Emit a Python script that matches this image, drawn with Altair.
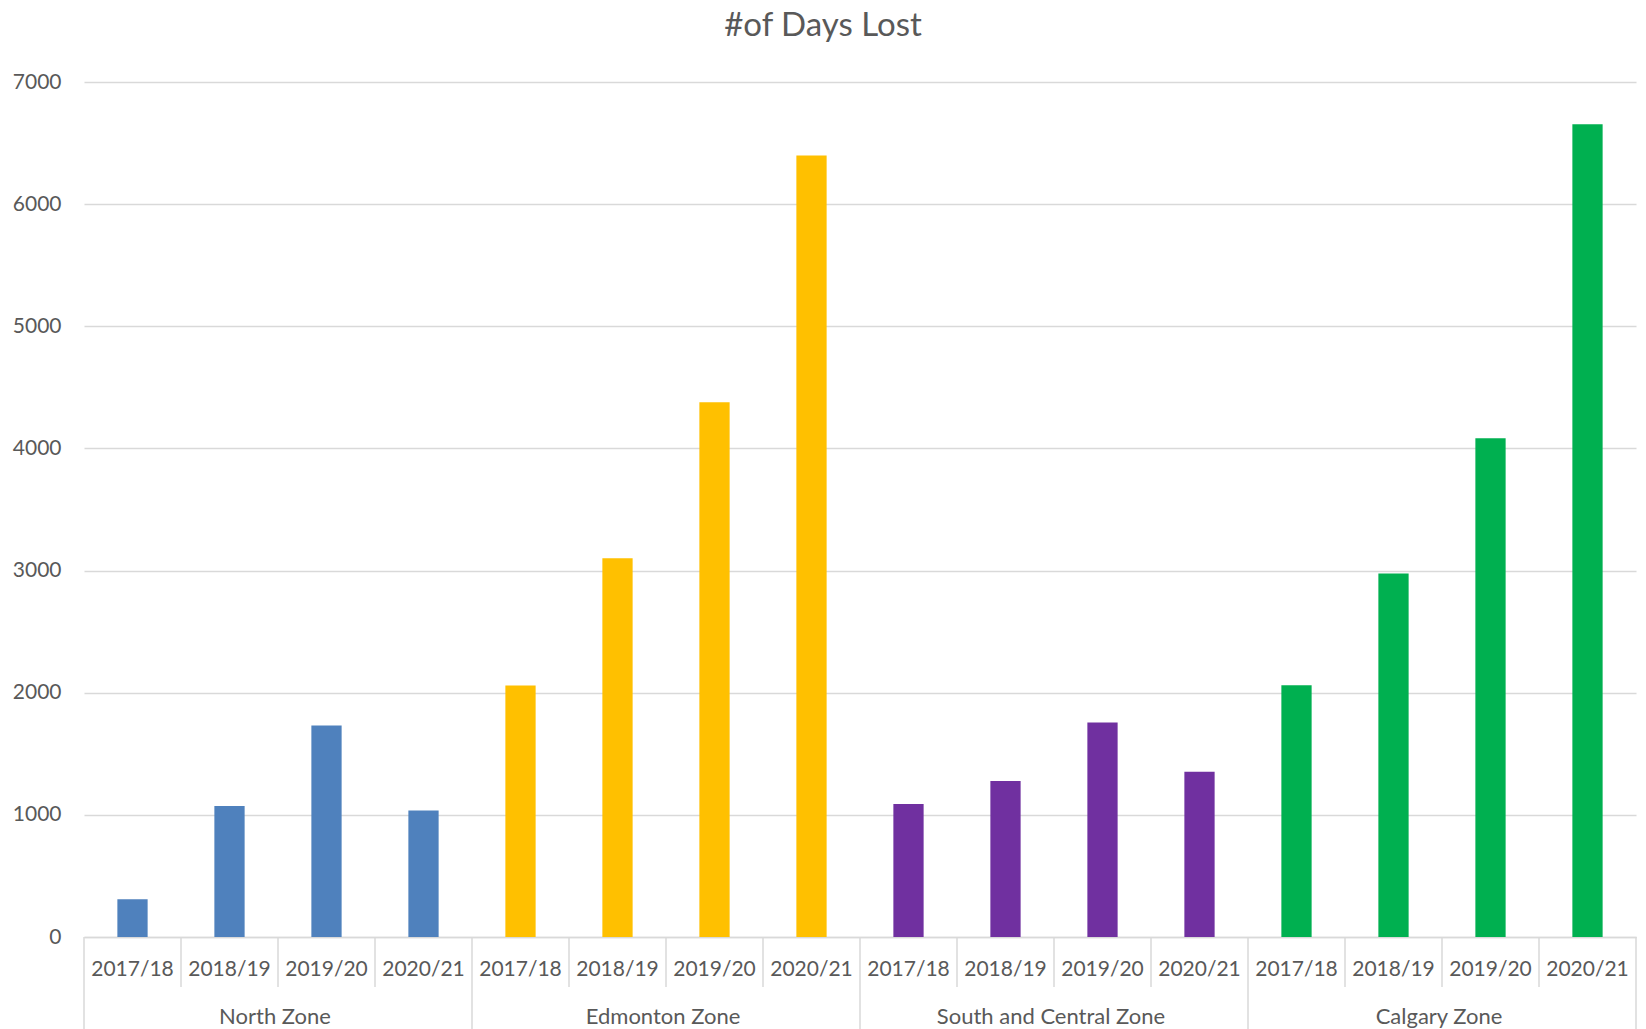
import altair as alt
import pandas as pd

zones = ["North Zone", "Edmonton Zone", "South and Central Zone", "Calgary Zone"]
years = ["2017/18", "2018/19", "2019/20", "2020/21"]
north = [310, 1073, 1732, 1035]
edmonton = [2060, 3100, 4379, 6398]
south = [1088, 1278, 1756, 1352]
calgary = [2061, 2977, 4084, 6654]
zone_colors = ["#4F81BD", "#FFC000", "#7030A0", "#00B050"]
y_ticks = [0, 1000, 2000, 3000, 4000, 5000, 6000, 7000]

rows = []
for z, vals in zip(zones, [north, edmonton, south, calgary]):
    for yr, v in zip(years, vals):
        rows.append({"zone": z, "year": yr, "key": f"{z}|{yr}", "days": v})
df = pd.DataFrame(rows)
keys = list(df["key"])

W, H = 1552, 855
FONT = "Lato"
GREY = "#595959"
LINE = "#d9d9d9"

xscale = alt.Scale(domain=keys, paddingInner=0, paddingOuter=0)

bars = alt.Chart(df).mark_bar(width=alt.RelativeBandSize(0.312)).encode(
    x=alt.X(
        "key:N",
        scale=xscale,
        title=None,
        axis=alt.Axis(
            labelExpr="split(datum.label, '|')[1]",
            labelAngle=0,
            ticks=False,
            domain=True,
            domainColor=LINE,
            domainWidth=1.5,
            labelPadding=32,
            labelBaseline="middle",
            labelFontSize=21,
            labelColor=GREY,
            labelFont=FONT,
            grid=False,
        ),
    ),
    y=alt.Y(
        "days:Q",
        scale=alt.Scale(domain=[0, 7000], nice=False),
        title=None,
        axis=alt.Axis(
            values=y_ticks,
            format="d",
            ticks=False,
            domain=False,
            grid=True,
            gridColor=LINE,
            gridWidth=1.5,
            labelPadding=23,
            labelFontSize=21,
            labelColor=GREY,
            labelFont=FONT,
        ),
    ),
    color=alt.Color("zone:N", scale=alt.Scale(domain=zones, range=zone_colors), legend=None),
)

short_sep = alt.Chart(df[df["year"] != years[0]]).mark_rule(color=LINE, strokeWidth=1.5).encode(
    x=alt.X("key:N", scale=xscale, bandPosition=0, title=None),
    y=alt.value(H),
    y2=alt.value(H + 50),
)

long_sep = alt.Chart(df[df["year"] == years[0]]).mark_rule(color=LINE, strokeWidth=1.5).encode(
    x=alt.X("key:N", scale=xscale, bandPosition=0, title=None),
    y=alt.value(H),
    y2=alt.value(H + 92),
)

end_sep = alt.Chart(df.tail(1)).mark_rule(color=LINE, strokeWidth=1.5).encode(
    x=alt.X("key:N", scale=xscale, bandPosition=1, title=None),
    y=alt.value(H),
    y2=alt.value(H + 92),
)

zone_labels = alt.Chart(df[df["year"] == years[1]]).mark_text(
    font=FONT, fontSize=22, color=GREY, baseline="middle", align="center", dx=-3
).encode(
    x=alt.X("key:N", scale=xscale, bandPosition=1, title=None),
    y=alt.value(H + 80),
    text="zone:N",
)

chart = alt.layer(bars, short_sep, long_sep, end_sep, zone_labels).properties(
    width=W,
    height=H,
    autosize=alt.AutoSizeParams(type="none"),
    padding={"left": 84, "top": 82, "right": 10, "bottom": 92},
    title=alt.TitleParams(
        "#of Days Lost",
        fontSize=33,
        font=FONT,
        color=GREY,
        fontWeight="normal",
        anchor="middle",
        dx=-37,
        offset=28,
    ),
).configure_view(stroke=None)

chart.save("out.html", embed_options={"renderer": "svg", "actions": False})
